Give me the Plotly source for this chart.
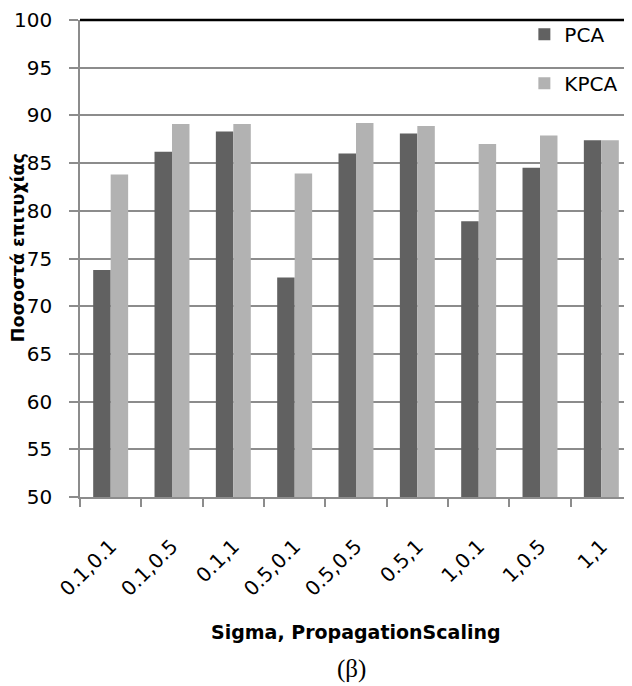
import plotly.graph_objects as go

categories = ["0.1,0.1", "0.1,0.5", "0.1,1", "0.5,0.1", "0.5,0.5", "0.5,1", "1,0.1", "1,0.5", "1,1"]
pca = [73.8, 86.2, 88.3, 73.0, 86.0, 88.1, 78.9, 84.5, 87.4]
kpca = [83.8, 89.1, 89.1, 83.9, 89.2, 88.9, 87.0, 87.9, 87.4]
y_ticks = [50, 55, 60, 65, 70, 75, 80, 85, 90, 95, 100]

FONT = "DejaVu Sans"
AXIS_GRAY = "#8c8c8c"

fig = go.Figure()
fig.add_trace(go.Bar(x=categories, y=pca, name="PCA", marker=dict(color="#616161", line_width=0),
                     legendgroup="a"))
fig.add_trace(go.Bar(x=categories, y=kpca, name="KPCA", marker=dict(color="#b2b2b2", line_width=0),
                     legendgroup="b"))

# page body adds an 8px offset, so the figure is 8px smaller than the window
fig.update_layout(
    width=624, height=678,
    margin=dict(l=72, r=0, t=12, b=189),
    paper_bgcolor="white", plot_bgcolor="white",
    barmode="group", bargap=0.43, bargroupgap=0,
    font=dict(family=FONT, size=20, color="black"),
    legend=dict(x=0.805, y=1.011, xanchor="left", yanchor="top", bgcolor="rgba(0,0,0,0)",
                font=dict(size=20), tracegroupgap=20, itemwidth=30),
    xaxis=dict(
        tickangle=-45, ticks="outside", tickson="boundaries", ticklen=8, tickcolor=AXIS_GRAY,
        tickwidth=1.5, showline=True, linecolor=AXIS_GRAY, linewidth=1.5, showgrid=False,
        tickfont=dict(size=20), ticklabelstandoff=28,
    ),
    yaxis=dict(
        range=[50, 100], tickvals=y_ticks, ticks="outside", ticklen=9, tickcolor=AXIS_GRAY,
        tickwidth=1.5, showline=True, linecolor=AXIS_GRAY, linewidth=1.5,
        showgrid=True, gridcolor=AXIS_GRAY, gridwidth=1.5,
        tickfont=dict(size=20), ticklabelstandoff=13,
    ),
    shapes=[dict(type="line", xref="paper", yref="paper", x0=0, x1=1, y0=1, y1=1,
                 line=dict(color="black", width=2.5))],
    annotations=[
        dict(text="<b>Sigma, PropagationScaling</b>", xref="paper", yref="paper", x=0.5, y=-0.283,
             showarrow=False, xanchor="center", yanchor="middle",
             font=dict(family=FONT, size=19, color="black")),
        dict(text="<b>Ποσοστά επιτυχίας</b>", xref="paper", yref="paper", x=-0.112, y=0.522,
             showarrow=False, xanchor="center", yanchor="middle", textangle=-90,
             font=dict(family=FONT, size=17.5, color="black")),
        dict(text="(β)", xref="paper", yref="paper", x=0.491, y=-0.361, showarrow=False,
             xanchor="center", yanchor="middle",
             font=dict(family="Liberation Serif", size=25, color="black")),
    ],
)

fig.write_html("out.html")
